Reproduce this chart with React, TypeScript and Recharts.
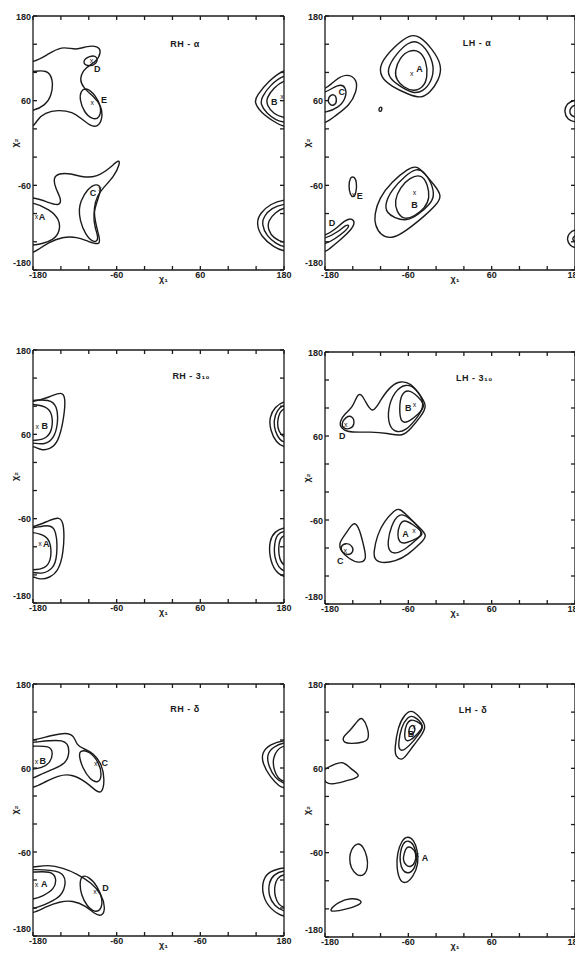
import React from "react";
import { ScatterChart, Scatter, XAxis, YAxis } from "recharts";

type Pt = [number, number];
type Lbl = { x: number; y: number; t: string };

const INK = "#1b1b1b";
const TICKS = [-180, -140, -100, -60, -20, 20, 60, 100, 140, 180];
const LABELLED = [-180, -60, 60, 180];
const X_TEXT = ["-180", "-60", "60", "180"];
const X_TEXT_RH_D = ["-180", "-60", "-60", "180"];
const Y_TEXT = ["-180", "-60", "60", "180"];

// ---- RH - alpha
const rhaTopOuter: Pt[] = [[-199, 114], [-180, 114], [-161, 124], [-139, 138], [-118, 131], [-102, 138], [-86, 137], [-82, 129], [-89, 115], [-104, 108], [-114, 92], [-108, 78], [-92, 65], [-82, 53], [-80, 35], [-87, 22], [-99, 25], [-111, 35], [-123, 44], [-144, 47], [-163, 43], [-174, 33], [-180, 21], [-199, 21]];
const rhaTopInner: Pt[] = [[-199, 101], [-180, 101], [-160, 104], [-151, 91], [-153, 67], [-163, 53], [-180, 45], [-199, 45]];
const rhaLoopD: Pt[] = [[-110, 115], [-99, 124], [-87, 123], [-88, 112], [-102, 108]];
const rhaLoopE: Pt[] = [[-112, 74], [-103, 79], [-90, 67], [-82, 52], [-84, 35], [-95, 33], [-107, 44], [-113, 61]];
const rhaLowOuter: Pt[] = [[-199, -77], [-180, -77], [-161, -83], [-142, -90], [-139, -80], [-148, -64], [-151, -49], [-143, -43], [-126, -43], [-108, -49], [-88, -48], [-70, -36], [-57, -23], [-55, -29], [-64, -48], [-79, -63], [-88, -75], [-93, -92], [-91, -111], [-85, -133], [-83, -145], [-100, -140], [-117, -133], [-138, -133], [-158, -141], [-174, -152], [-180, -156], [-199, -156]];
const rhaLowA: Pt[] = [[-199, -84], [-180, -84], [-156, -94], [-142, -108], [-141, -125], [-151, -138], [-168, -143], [-180, -145], [-199, -145]];
const rhaLowC: Pt[] = [[-112, -83], [-102, -65], [-89, -57], [-81, -63], [-88, -82], [-94, -102], [-91, -121], [-85, -137], [-93, -142], [-105, -130], [-113, -109], [-114, -94]];
const rhaB1: Pt[] = [[203, 106], [180, 105], [157, 87], [141, 67], [137, 58], [147, 43], [166, 30], [180, 22], [203, 22]];
const rhaB2: Pt[] = [[203, 98], [180, 97], [160, 82], [148, 65], [146, 55], [155, 42], [169, 32], [180, 29], [203, 29]];
const rhaB3: Pt[] = [[203, 91], [180, 90], [165, 78], [155, 64], [155, 54], [165, 41], [180, 35], [203, 35]];
const rhaR1: Pt[] = [[203, -79], [180, -80], [161, -86], [146, -99], [140, -113], [147, -133], [166, -148], [180, -154], [203, -154]];
const rhaR2: Pt[] = [[203, -85], [180, -86], [162, -92], [151, -104], [148, -115], [155, -132], [169, -143], [180, -148], [203, -148]];
const rhaR3: Pt[] = [[203, -90], [180, -91], [168, -98], [157, -110], [157, -123], [165, -135], [180, -142], [203, -142]];
const rhaMarks: Pt[] = [[-96, 117], [-95, 58], [-84, -65], [-175, -104], [177, 66]];
const rhaLetters: Lbl[] = [{ x: -88, y: 105, t: "D" }, { x: -78, y: 61, t: "E" }, { x: -94, y: -70, t: "C" }, { x: -167, y: -104, t: "A" }, { x: 166, y: 59, t: "B" }];

// ---- LH - alpha
const lhaA1: Pt[] = [[-102, 112], [-80, 137], [-58, 154], [-44, 152], [-26, 134], [-11, 110], [-16, 89], [-29, 71], [-42, 63], [-60, 69], [-84, 80], [-100, 93]];
const lhaA2: Pt[] = [[-91, 105], [-77, 127], [-60, 143], [-46, 145], [-32, 131], [-22, 108], [-27, 86], [-39, 73], [-53, 70], [-70, 79], [-87, 91]];
const lhaA3: Pt[] = [[-80, 101], [-72, 122], [-58, 132], [-44, 131], [-34, 117], [-32, 93], [-39, 78], [-53, 73], [-67, 79], [-77, 89]];
const lhaB1: Pt[] = [[-109, -102], [-102, -78], [-84, -55], [-60, -36], [-48, -32], [-36, -44], [-23, -59], [-11, -75], [-20, -88], [-36, -103], [-65, -126], [-84, -136], [-100, -131], [-108, -116]];
const lhaB2: Pt[] = [[-94, -87], [-84, -66], [-65, -47], [-48, -35], [-36, -42], [-27, -56], [-22, -75], [-29, -87], [-46, -102], [-63, -111], [-80, -106], [-91, -99]];
const lhaB3: Pt[] = [[-80, -82], [-72, -63], [-58, -49], [-41, -44], [-32, -59], [-29, -78], [-36, -92], [-51, -104], [-67, -109], [-77, -97]];
const lhaC1: Pt[] = [[-199, 75], [-180, 75], [-166, 89], [-149, 99], [-133, 90], [-135, 72], [-144, 54], [-166, 38], [-180, 27], [-199, 27]];
const lhaC2: Pt[] = [[-199, 70], [-180, 70], [-161, 84], [-149, 80], [-150, 62], [-161, 50], [-178, 43], [-199, 43]];
const lhaC3: Pt[] = [[-176, 65], [-167, 71], [-162, 60], [-167, 52], [-175, 55]];
const lhaDot: Pt[] = [[-103, 47], [-101, 51], [-98, 51], [-98, 46], [-101, 44]];
const lhaE: Pt[] = [[-144, -49], [-139, -47], [-134, -54], [-135, -71], [-139, -78], [-144, -73], [-146, -61]];
const lhaD1: Pt[] = [[-199, -132], [-180, -132], [-166, -123], [-152, -110], [-142, -106], [-136, -113], [-144, -125], [-161, -140], [-175, -151], [-180, -155], [-199, -155]];
const lhaD2: Pt[] = [[-199, -137], [-180, -136], [-161, -126], [-149, -115], [-144, -117], [-152, -126], [-166, -136], [-180, -144], [-199, -144]];
const lhaR1: Pt[] = [[200, 62], [180, 62], [168, 56], [164, 45], [169, 33], [180, 29], [200, 29]];
const lhaR2: Pt[] = [[200, 55], [180, 55], [173, 50], [172, 41], [178, 36], [200, 36]];
const lhaR3: Pt[] = [[200, -122], [180, -122], [171, -128], [168, -137], [173, -146], [180, -149], [200, -149]];
const lhaR4: Pt[] = [[200, -130], [180, -130], [176, -135], [178, -141], [200, -141]];
const lhaMarks: Pt[] = [[-55, 99], [-51, -70], [-139, -73]];
const lhaLetters: Lbl[] = [{ x: -44, y: 105, t: "A" }, { x: -51, y: -87, t: "B" }, { x: -156, y: 72, t: "C" }, { x: -130, y: -75, t: "E" }, { x: -170, y: -113, t: "D" }];

// ---- RH - 3_10
const rh3B1: Pt[] = [[-199, 106], [-180, 106], [-156, 113], [-139, 121], [-133, 113], [-136, 80], [-144, 48], [-156, 39], [-168, 37], [-180, 44], [-199, 44]];
const rh3B2: Pt[] = [[-199, 108], [-180, 108], [-157, 110], [-145, 101], [-144, 75], [-150, 54], [-163, 45], [-180, 48], [-199, 48]];
const rh3B3: Pt[] = [[-199, 103], [-180, 103], [-161, 100], [-152, 90], [-152, 66], [-161, 54], [-175, 51], [-199, 51]];
const rh3A1: Pt[] = [[-199, -73], [-180, -73], [-156, -62], [-142, -57], [-135, -67], [-136, -110], [-144, -135], [-156, -144], [-170, -147], [-180, -142], [-199, -142]];
const rh3A2: Pt[] = [[-199, -74], [-180, -74], [-158, -68], [-146, -74], [-145, -115], [-151, -131], [-166, -139], [-180, -136], [-199, -136]];
const rh3A3: Pt[] = [[-199, -79], [-180, -79], [-161, -84], [-154, -96], [-154, -120], [-163, -131], [-180, -133], [-199, -133]];
const rh3R1: Pt[] = [[203, 108], [180, 108], [167, 99], [159, 85], [160, 66], [169, 48], [180, 41], [203, 41]];
const rh3R2: Pt[] = [[203, 103], [180, 103], [170, 95], [165, 80], [167, 64], [174, 52], [180, 48], [203, 48]];
const rh3R3: Pt[] = [[203, 98], [180, 98], [174, 92], [170, 78], [172, 64], [180, 54], [203, 54]];
const rh3R4: Pt[] = [[203, -72], [180, -72], [167, -78], [159, -91], [159, -115], [167, -135], [180, -144], [203, -144]];
const rh3R5: Pt[] = [[203, -77], [180, -77], [170, -82], [166, -96], [166, -115], [172, -129], [180, -136], [203, -136]];
const rh3R6: Pt[] = [[203, -82], [180, -82], [174, -89], [172, -101], [173, -117], [180, -129], [203, -129]];
const rh3Marks: Pt[] = [[-174, 71], [-170, -96]];
const rh3Letters: Lbl[] = [{ x: -163, y: 72, t: "B" }, { x: -161, y: -96, t: "A" }];

// ---- LH - 3_10
const lh3Top: Pt[] = [[-158, 81], [-152, 92], [-140, 100], [-132, 124], [-124, 115], [-112, 89], [-100, 112], [-85, 132], [-71, 139], [-56, 135], [-45, 121], [-32, 103], [-42, 88], [-56, 71], [-68, 59], [-90, 64], [-114, 66], [-143, 65], [-153, 68], [-159, 75]];
const lh3B2: Pt[] = [[-90, 98], [-80, 124], [-64, 135], [-49, 129], [-35, 105], [-47, 86], [-64, 67], [-78, 65], [-88, 74]];
const lh3B3: Pt[] = [[-73, 98], [-71, 120], [-59, 127], [-47, 117], [-34, 103], [-47, 90], [-61, 79], [-71, 79]];
const lh3D: Pt[] = [[-157, 77], [-150, 88], [-140, 89], [-137, 77], [-143, 70], [-153, 70]];
const lh3C1: Pt[] = [[-160, -92], [-150, -80], [-138, -60], [-130, -73], [-123, -102], [-120, -117], [-131, -122], [-145, -116], [-158, -104]];
const lh3C2: Pt[] = [[-158, -98], [-150, -92], [-140, -97], [-139, -106], [-147, -111], [-156, -106]];
const lh3A1: Pt[] = [[-110, -106], [-105, -82], [-95, -62], [-80, -46], [-73, -43], [-61, -54], [-44, -71], [-32, -82], [-42, -93], [-61, -110], [-78, -119], [-100, -122], [-109, -116]];
const lh3A2: Pt[] = [[-90, -92], [-85, -68], [-73, -49], [-59, -56], [-37, -78], [-47, -87], [-64, -102], [-80, -109], [-88, -104]];
const lh3A3: Pt[] = [[-76, -82], [-73, -66], [-66, -59], [-54, -66], [-35, -80], [-49, -87], [-65, -94], [-73, -92]];
const lh3Marks: Pt[] = [[-51, 105], [-150, 77], [-151, -103], [-52, -75]];
const lh3Letters: Lbl[] = [{ x: -60, y: 100, t: "B" }, { x: -155, y: 60, t: "D" }, { x: -158, y: -118, t: "C" }, { x: -64, y: -79, t: "A" }];

// ---- RH - delta
const rhdTop1: Pt[] = [[-199, 99], [-180, 99], [-156, 106], [-132, 111], [-121, 106], [-117, 92], [-108, 88], [-93, 81], [-81, 65], [-77, 43], [-81, 23], [-90, 27], [-102, 39], [-125, 52], [-144, 49], [-163, 40], [-180, 31], [-199, 31]];
const rhdTop2: Pt[] = [[-199, 96], [-180, 96], [-132, 103], [-127, 84], [-132, 67], [-151, 58], [-170, 51], [-180, 44], [-199, 44]];
const rhdTop3: Pt[] = [[-199, 91], [-180, 91], [-156, 92], [-151, 82], [-155, 67], [-168, 60], [-180, 58], [-199, 58]];
const rhdC: Pt[] = [[-113, 85], [-100, 85], [-85, 68], [-81, 49], [-86, 38], [-98, 43], [-109, 60], [-114, 77]];
const rhdLow1: Pt[] = [[-199, -82], [-180, -82], [-158, -78], [-137, -83], [-117, -91], [-96, -104], [-81, -121], [-76, -141], [-81, -152], [-91, -149], [-104, -137], [-123, -129], [-142, -131], [-161, -138], [-180, -148], [-199, -148]];
const rhdLow2: Pt[] = [[-199, -85], [-180, -85], [-137, -86], [-132, -104], [-139, -123], [-156, -132], [-180, -142], [-199, -142]];
const rhdLow3: Pt[] = [[-199, -89], [-180, -89], [-154, -87], [-146, -97], [-149, -113], [-166, -123], [-180, -128], [-199, -128]];
const rhdD: Pt[] = [[-111, -94], [-101, -94], [-87, -109], [-80, -128], [-82, -142], [-91, -147], [-103, -137], [-111, -121], [-113, -106]];
const rhdR1: Pt[] = [[203, 100], [180, 100], [160, 94], [148, 82], [149, 67], [160, 47], [174, 33], [180, 31], [203, 31]];
const rhdR2: Pt[] = [[203, 97], [180, 97], [164, 90], [155, 79], [158, 62], [167, 46], [180, 36], [203, 36]];
const rhdR3: Pt[] = [[203, 93], [180, 93], [170, 86], [164, 74], [165, 58], [172, 44], [180, 40], [203, 40]];
const rhdR4: Pt[] = [[203, -82], [180, -82], [160, -87], [149, -99], [149, -123], [160, -141], [174, -150], [180, -152], [203, -152]];
const rhdR5: Pt[] = [[203, -86], [180, -86], [165, -92], [158, -104], [158, -123], [166, -137], [180, -146], [203, -146]];
const rhdR6: Pt[] = [[203, -91], [180, -91], [170, -97], [166, -109], [167, -125], [173, -136], [180, -140], [203, -140]];
const rhdMarks: Pt[] = [[-175, 70], [-90, 67], [-175, -106], [-91, -117]];
const rhdLetters: Lbl[] = [{ x: -166, y: 71, t: "B" }, { x: -77, y: 68, t: "C" }, { x: -164, y: -106, t: "A" }, { x: -76, y: -111, t: "D" }];

// ---- LH - delta
const lhdL1: Pt[] = [[-155, 105], [-144, 113], [-131, 131], [-126, 132], [-119, 120], [-116, 102], [-124, 97], [-142, 95], [-153, 96]];
const lhdL2: Pt[] = [[-183, 58], [-170, 64], [-154, 71], [-144, 60], [-130, 51], [-134, 46], [-154, 41], [-170, 37], [-179, 39], [-183, 48]];
const lhdL3: Pt[] = [[-143, -56], [-133, -45], [-125, -51], [-119, -66], [-118, -82], [-124, -93], [-134, -93], [-143, -82], [-145, -68]];
const lhdL4: Pt[] = [[-174, -142], [-161, -130], [-142, -124], [-126, -128], [-129, -134], [-151, -141], [-169, -144]];
const lhdB1: Pt[] = [[-80, 86], [-75, 120], [-65, 137], [-56, 143], [-47, 137], [-33, 120], [-41, 107], [-53, 92], [-63, 78], [-70, 71], [-78, 77]];
const lhdB2: Pt[] = [[-75, 93], [-70, 120], [-61, 133], [-53, 136], [-36, 120], [-44, 110], [-53, 98], [-65, 86], [-72, 85]];
const lhdB3: Pt[] = [[-66, 108], [-63, 124], [-56, 130], [-48, 127], [-37, 120], [-46, 110], [-56, 100], [-64, 98]];
const lhdB4: Pt[] = [[-60, 115], [-56, 122], [-50, 120], [-51, 110], [-58, 106]];
const lhdA1: Pt[] = [[-76, -61], [-70, -43], [-61, -36], [-52, -42], [-47, -56], [-45, -75], [-53, -95], [-65, -105], [-73, -99], [-77, -80]];
const lhdA2: Pt[] = [[-72, -61], [-68, -46], [-60, -42], [-52, -48], [-47, -66], [-50, -82], [-60, -91], [-69, -85], [-72, -73]];
const lhdA3: Pt[] = [[-66, -61], [-63, -52], [-56, -51], [-48, -61], [-50, -74], [-56, -81], [-64, -78], [-68, -70]];
const lhdMarks: Pt[] = [[-52, 120], [-47, -63]];
const lhdLetters: Lbl[] = [{ x: -56, y: 109, t: "B" }, { x: -36, y: -67, t: "A" }];

type PanelSpec = {
  title: string;
  titleAt: Pt;
  left: number;
  top: number;
  w: number;
  h: number;
  curves: Pt[][];
  marks: Pt[];
  letters: Lbl[];
  xText: string[];
};

const PANELS: PanelSpec[] = [
  {
    title: "RH - α", titleAt: [38, 141], left: 33, top: 16, w: 251, h: 254,
    curves: [rhaTopOuter, rhaTopInner, rhaLoopD, rhaLoopE, rhaLowOuter, rhaLowA, rhaLowC, rhaB1, rhaB2, rhaB3, rhaR1, rhaR2, rhaR3],
    marks: rhaMarks, letters: rhaLetters, xText: X_TEXT,
  },
  {
    title: "LH - α", titleAt: [39, 142], left: 325, top: 16, w: 250, h: 254,
    curves: [lhaA1, lhaA2, lhaA3, lhaB1, lhaB2, lhaB3, lhaC1, lhaC2, lhaC3, lhaDot, lhaE, lhaD1, lhaD2, lhaR1, lhaR2, lhaR3, lhaR4],
    marks: lhaMarks, letters: lhaLetters, xText: X_TEXT,
  },
  {
    title: "RH - 3₁₀", titleAt: [47, 144], left: 33, top: 350, w: 251, h: 253,
    curves: [rh3B1, rh3B2, rh3B3, rh3A1, rh3A2, rh3A3, rh3R1, rh3R2, rh3R3, rh3R4, rh3R5, rh3R6],
    marks: rh3Marks, letters: rh3Letters, xText: X_TEXT,
  },
  {
    title: "LH - 3₁₀", titleAt: [35, 143], left: 325, top: 352, w: 250, h: 252,
    curves: [lh3Top, lh3B2, lh3B3, lh3D, lh3C1, lh3C2, lh3A1, lh3A2, lh3A3],
    marks: lh3Marks, letters: lh3Letters, xText: X_TEXT,
  },
  {
    title: "RH - δ", titleAt: [38, 144], left: 33, top: 684, w: 251, h: 252,
    curves: [rhdTop1, rhdTop2, rhdTop3, rhdC, rhdLow1, rhdLow2, rhdLow3, rhdD, rhdR1, rhdR2, rhdR3, rhdR4, rhdR5, rhdR6],
    marks: rhdMarks, letters: rhdLetters, xText: X_TEXT_RH_D,
  },
  {
    title: "LH - δ", titleAt: [33, 144], left: 325, top: 684, w: 250, h: 253,
    curves: [lhdL1, lhdL2, lhdL3, lhdL4, lhdB1, lhdB2, lhdB3, lhdB4, lhdA1, lhdA2, lhdA3],
    marks: lhdMarks, letters: lhdLetters, xText: X_TEXT,
  },
];

const TXT: React.CSSProperties = {
  fontFamily: "'Liberation Sans', Arial, sans-serif",
  fontSize: 9,
  fontWeight: 700,
  fill: INK,
};
const AXIS = { stroke: INK, strokeWidth: 1.3 };
const LINE = { stroke: INK, strokeWidth: 1.4, fill: "none" };

const toXY = (pts: Pt[]) => pts.map(([x, y]) => ({ x, y }));
const Blank = () => <g />;

function XTick(props: any) {
  const { x, y, payload, texts } = props;
  const i = LABELLED.indexOf(payload.value);
  if (i < 0) return <g />;
  const dx = payload.value === -180 ? 5 : 0;
  return (
    <text x={x + dx} y={y} dy={7} textAnchor="middle" style={TXT}>
      {texts[i]}
    </text>
  );
}

function YTick(props: any) {
  const { x, y, payload } = props;
  const i = LABELLED.indexOf(payload.value);
  if (i < 0) return <g />;
  const dy = payload.value === -180 ? -4 : 3.5;
  return (
    <text x={x} y={y} dy={dy} textAnchor="end" style={TXT}>
      {Y_TEXT[i]}
    </text>
  );
}

function Panel({ p }: { p: PanelSpec }) {
  const W = 33 + p.w + 8;
  const H = 10 + p.h + 24;
  return (
    <div style={{ position: "absolute", left: p.left - 33, top: p.top - 10 }}>
      <ScatterChart width={W} height={H} margin={{ top: 9, right: 7, bottom: 0, left: 0 }}>
        <XAxis
          xAxisId="b"
          type="number"
          dataKey="x"
          domain={[-180, 180]}
          allowDataOverflow
          ticks={TICKS}
          interval={0}
          height={24}
          tickSize={-4}
          tickMargin={5}
          axisLine={AXIS}
          tickLine={AXIS}
          tick={(t: any) => <XTick {...t} texts={p.xText} />}
          label={(l: any) => {
            const vb = l.viewBox || {};
            return (
              <text x={vb.x + vb.width / 2 + 5} y={vb.y + 12} textAnchor="middle" style={TXT}>
                χ₁
              </text>
            );
          }}
        />
        <XAxis
          xAxisId="t"
          orientation="top"
          type="number"
          dataKey="x"
          domain={[-180, 180]}
          allowDataOverflow
          ticks={TICKS}
          interval={0}
          height={1}
          tickSize={-4}
          axisLine={AXIS}
          tickLine={AXIS}
          tick={Blank}
        />
        <YAxis
          yAxisId="l"
          type="number"
          dataKey="y"
          domain={[-180, 180]}
          allowDataOverflow
          ticks={TICKS}
          interval={0}
          width={33}
          tickSize={-4}
          tickMargin={6}
          axisLine={AXIS}
          tickLine={AXIS}
          tick={(t: any) => <YTick {...t} />}
          label={(l: any) => {
            const vb = l.viewBox || {};
            const cx = vb.x + 15;
            const cy = vb.y + vb.height / 2;
            return (
              <text x={cx} y={cy} dy={3} textAnchor="middle" transform={`rotate(-90 ${cx} ${cy})`} style={TXT}>
                χ₂
              </text>
            );
          }}
        />
        <YAxis
          yAxisId="r"
          orientation="right"
          type="number"
          dataKey="y"
          domain={[-180, 180]}
          allowDataOverflow
          ticks={TICKS}
          interval={0}
          width={1}
          tickSize={-4}
          axisLine={AXIS}
          tickLine={AXIS}
          tick={Blank}
        />
        {p.curves.map((c, i) => (
          <Scatter
            key={i}
            xAxisId="b"
            yAxisId="l"
            data={toXY(c)}
            line={LINE}
            lineType="joint"
            lineJointType="basisClosed"
            shape={Blank}
            isAnimationActive={false}
          />
        ))}
        <Scatter
          xAxisId="b"
          yAxisId="l"
          data={toXY(p.marks)}
          isAnimationActive={false}
          shape={(s: any) => (
            <text x={s.cx} y={s.cy} dy={2.5} textAnchor="middle" style={{ ...TXT, fontSize: 7, fontWeight: 400 }}>
              x
            </text>
          )}
        />
        <Scatter
          xAxisId="b"
          yAxisId="l"
          data={p.letters}
          isAnimationActive={false}
          shape={(s: any) => (
            <text x={s.cx} y={s.cy} dy={3.2} textAnchor="middle" style={TXT}>
              {s.payload.t}
            </text>
          )}
        />
        <Scatter
          xAxisId="b"
          yAxisId="l"
          data={[{ x: p.titleAt[0], y: p.titleAt[1] }]}
          isAnimationActive={false}
          shape={(s: any) => (
            <text x={s.cx} y={s.cy} dy={3.2} textAnchor="middle" style={{ ...TXT, letterSpacing: 0.5 }}>
              {p.title}
            </text>
          )}
        />
      </ScatterChart>
    </div>
  );
}

export default function App() {
  return (
    <div
      style={{
        position: "absolute",
        left: 0,
        top: 0,
        width: 575,
        height: 953,
        overflow: "hidden",
        background: "#fff",
      }}
    >
      {PANELS.map((p, i) => (
        <Panel key={i} p={p} />
      ))}
    </div>
  );
}
